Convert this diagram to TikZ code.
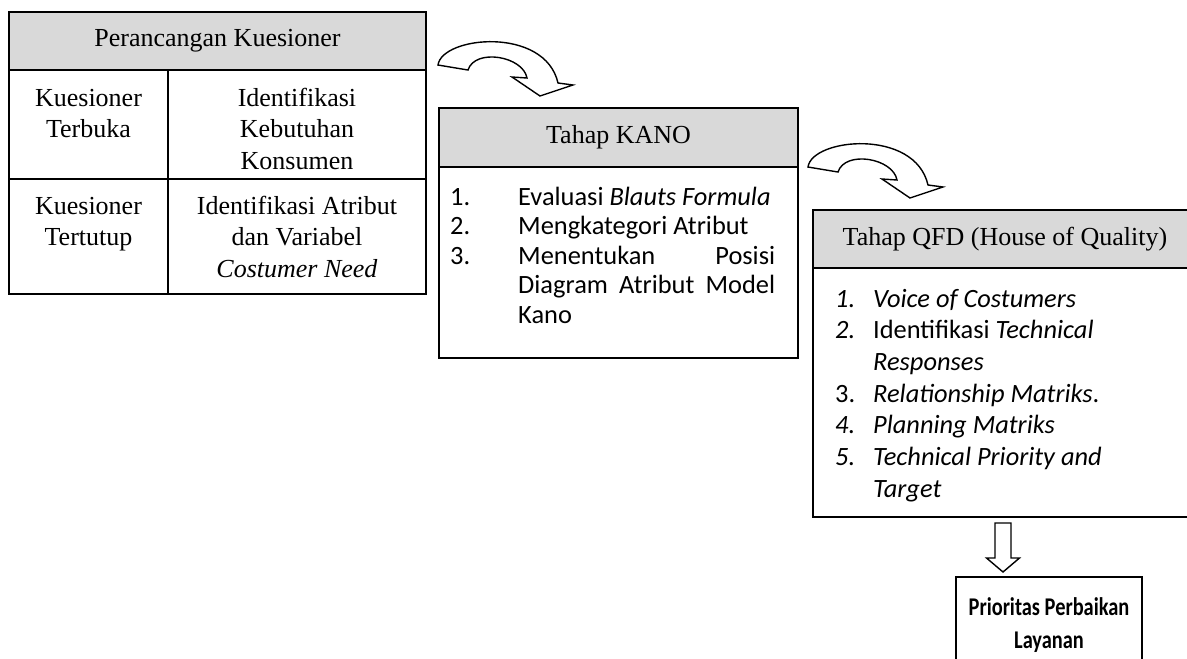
\documentclass[tikz,border=0pt]{standalone}
\usepackage{fontspec}
\setmainfont{Liberation Serif}
\newfontfamily\calfont{Carlito}
\newfontfamily\calnarrow[FakeStretch=0.8]{Carlito}
\definecolor{hdrgray}{RGB}{217,217,217}
\newcommand\tnrfont{\fontsize{26}{31.5}\selectfont}
\begin{document}
\begin{tikzpicture}[x=1pt,y=-1pt,
  box/.style={draw, line width=1.8pt, outer sep=0pt, inner sep=0pt, anchor=north west},
  hdr/.style={box, fill=hdrgray, font=\tnrfont},
  cell/.style={anchor=base, inner sep=0pt, font=\tnrfont},
  listtxt/.style={anchor=base west, inner sep=0pt},
  arrowline/.style={draw, line width=1.4pt, fill=white, line join=miter},
  curvarrow/.pic={\path[arrowline] (0,0) .. controls (4,-29) and (107,-39) .. (120,18) -- (135,20) -- (102,31) -- (74,12) -- (89,13) .. controls (85,-9) and (37,-17) .. (30,5) -- cycle;},
  downarrow/.pic={\path[arrowline] (-8,0) -- (8,0) -- (8,35) -- (16.5,35) -- (0,49) -- (-16.5,35) -- (-8,35) -- cycle;}
]
\useasboundingbox (0,0) rectangle (1187,659);
\clip (0,0) rectangle (1187,659);

% Perancangan Kuesioner
\node[hdr, minimum width=417pt, minimum height=58pt] (pkh) at (9,12) {Perancangan Kuesioner};
\node[box, minimum width=159pt, minimum height=109pt] (c11) at (pkh.south west) {};
\node[box, minimum width=258pt, minimum height=109pt] (c12) at (c11.north east) {};
\node[box, minimum width=159pt, minimum height=115pt] (c21) at (c11.south west) {};
\node[box, minimum width=258pt, minimum height=115pt] (c22) at (c21.north east) {};
\node[cell] (t11) at (88.5,106) {\parbox[t]{150pt}{\centering Kuesioner\\Terbuka}};
\node[cell] (t12) at (297,106) {\parbox[t]{250pt}{\centering Identifikasi\\Kebutuhan\\Konsumen}};
\node[cell] (t21) at (88.5,214) {\parbox[t]{150pt}{\centering Kuesioner\\Tertutup}};
\node[cell] (t22) at (297,214) {\parbox[t]{250pt}{\centering Identifikasi Atribut\\dan Variabel\\\textit{Costumer Need}}};

% Tahap KANO
\node[hdr, minimum width=359pt, minimum height=59pt] (kh) at (439,108) {Tahap KANO};
\node[box, minimum width=359pt, minimum height=191pt] (kb) at (kh.south west) {};
\node[listtxt, font=\calfont\fontsize{26.4}{29.5}\selectfont] (kl) at (450,205) {\parbox[t]{340pt}{\raggedright
\makebox[68pt][l]{1.}Evaluasi \textit{Blauts Formula}\\
\makebox[68pt][l]{2.}Mengkategori Atribut\\
\makebox[68pt][l]{3.}\makebox[257pt][s]{Menentukan Posisi}\\
\hspace*{68pt}\makebox[257pt][s]{Diagram Atribut Model}\\
\hspace*{68pt}Kano}};

% Tahap QFD
\node[hdr, minimum width=384pt, minimum height=58pt] (qh) at (813,210) {Tahap QFD (House of Quality)};
\node[box, minimum width=384pt, minimum height=249pt] (qb) at (qh.south west) {};
\node[listtxt, font=\calfont\fontsize{26.4}{31.7}\selectfont] (ql) at (835,307) {\parbox[t]{350pt}{\raggedright
\makebox[38pt][l]{\textit{1.}}\textit{Voice of Costumers}\\
\makebox[38pt][l]{\textit{2.}}Identifikasi \textit{Technical}\\
\hspace*{38pt}\textit{Responses}\\
\makebox[38pt][l]{3.}\textit{Relationship Matriks}.\\
\makebox[38pt][l]{\textit{4.}}\textit{Planning Matriks}\\
\makebox[38pt][l]{\textit{5.}}\textit{Technical Priority and}\\
\hspace*{38pt}\textit{Target}}};

% Prioritas
\node[box, minimum width=186pt, minimum height=110pt] (pp) at (956,577) {};
\node[cell, font=\calnarrow\bfseries\fontsize{25.5}{33}\selectfont] (ppt) at (1049,615) {\parbox[t]{184pt}{\centering Prioritas Perbaikan\\Layanan}};

% arrows
\pic at (438,65) {curvarrow};
\pic at (808,167) {curvarrow};
\pic at (1003,523) {downarrow};
\end{tikzpicture}
\end{document}
